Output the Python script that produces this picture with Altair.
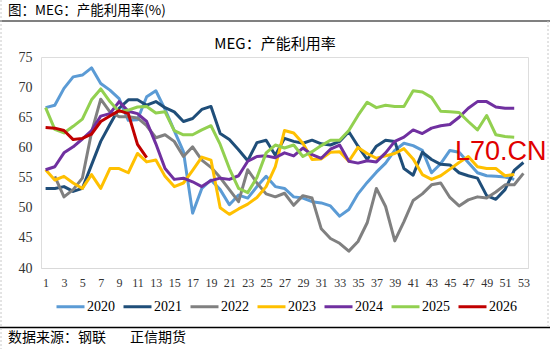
import altair as alt
import pandas as pd

years = ["2020", "2021", "2022", "2023", "2024", "2025", "2026"]
colors = ["#5B9BD5", "#1F4E79", "#808080", "#FFC000", "#7030A0", "#92D050", "#C00000"]

s2020 = [66.6, 67.0, 69.8, 71.7, 72.0, 73.2, 70.6, 69.5, 68.1, 64.5, 64.6, 68.4, 69.4,
         66.3, 62.8, 59.3, 49.1, 53.2, 54.6, 53.0, 50.5, 52.1, 51.6, 53.5, 55.2, 53.5,
         53.2, 51.8, 51.6, 51.0, 50.8, 50.3, 48.6, 49.7, 52.3, 54.2, 55.9, 57.4, 59.5,
         60.7, 60.3, 59.5, 55.8, 57.3, 59.5, 59.2, 57.5, 55.8, 55.3, 55.2, 55.1, 54.7]
s2021 = [53.2, 53.2, 53.5, 52.7, 53.2, 57.1, 61.0, 63.8, 66.5, 67.9, 67.9, 67.0, 67.6,
         66.6, 65.9, 64.3, 64.8, 66.3, 66.8, 62.3, 61.3, 59.6, 57.8, 60.8, 61.2, 58.7,
         61.5, 61.0, 60.7, 61.2, 60.6, 60.4, 61.0, 62.6, 60.2, 58.0, 60.2, 61.2, 61.0,
         56.5, 55.4, 59.2, 58.0, 57.2, 57.1, 55.8, 55.3, 54.9, 52.0, 51.4, 53.0, 56.2, 57.5]
s2022 = [None, 55.2, 51.8, 53.0, 54.9, 62.5, 68.0, 65.9, 65.1, 65.1, 64.9, 63.6, 61.6,
         62.1, 61.0, 58.5, 60.1, 57.9, 56.7, 55.0, 53.0, 51.0, 56.3, 54.1, 52.3, 51.8,
         52.4, 50.4, 52.0, 51.6, 46.5, 44.9, 44.1, 42.8, 44.4, 47.5, 53.2, 50.2, 44.5,
         47.7, 51.2, 52.3, 53.8, 54.1, 51.7, 50.3, 51.3, 51.8, 51.6, 52.6, 53.8, 53.8, 55.7]
s2023 = [56.3, 54.6, 55.2, 54.1, 53.2, 55.5, 53.2, 56.5, 56.5, 55.8, 59.0, 57.6, 57.9,
         55.2, 53.5, 54.1, 56.2, 58.4, 57.9, 50.0, 48.9, 49.8, 50.6, 51.7, 53.5, 56.8,
         62.8, 62.4, 60.7, 58.0, 58.1, 59.2, 59.3, 57.7, 60.0, 59.0, 58.2, 58.6, 59.0,
         59.8, 58.1, 55.5, 54.7, 55.3, 56.4, 57.5, 58.5, 56.8, 56.5, 56.5, 55.3, 55.5]
s2024 = [56.3, 56.8, 59.1, 60.1, 61.4, 62.8, 65.2, 65.6, 67.6, 66.0, 65.6, 64.3, 60.6,
         56.5, 54.7, 54.9, 54.3, 53.5, 54.5, 54.9, 54.7, 55.3, 57.7, 58.5, 58.6, 58.3,
         59.1, 58.6, 59.9, 58.8, 58.2, 59.7, 60.4, 57.7, 57.4, 57.8, 57.6, 59.1, 61.0,
         61.7, 62.9, 62.3, 63.2, 63.6, 63.8, 65.0, 66.5, 67.6, 67.6, 66.7, 66.5, 66.5]
s2025 = [66.6, 63.0, 62.4, 63.5, 64.7, 67.9, 69.7, 67.6, 65.9, 66.2, 66.7, 66.8, 65.7,
         65.9, 62.8, 62.1, 62.1, 62.9, 63.6, 60.5, 56.5, 53.2, 52.5, 55.0, 59.1, 60.4,
         59.9, 60.4, 58.5, 59.3, 60.3, 61.2, 61.2, 62.8, 65.3, 67.5, 66.6, 67.0, 66.8,
         66.8, 69.4, 69.2, 68.3, 66.0, 65.9, 65.8, 64.3, 62.9, 65.3, 62.1, 61.8, 61.7]
s2026 = [63.3, 63.2, 62.8, 61.3, 61.5, 62.2, 64.3, 65.2, 66.1, 65.6, 60.5, 58.3]

x_ticks = list(range(1, 54, 2))
y_ticks = list(range(40, 76, 5))

series = [s2020, s2021, s2022, s2023, s2024, s2025, s2026]
rows = []
for k, (yr, s) in enumerate(zip(years, series)):
    for i, v in enumerate(s):
        if v is not None:
            rows.append({"week": i + 1, "value": v, "year": yr, "k": k})
df = pd.DataFrame(rows)

W, H = 487, 211
PL, PT = 41, 57
NUM_FONT = "Liberation Serif"
CJK_FONT = "Noto Sans CJK SC"

lines = alt.Chart(df).mark_line(strokeWidth=3, strokeJoin="round").encode(
    x=alt.X("week:Q",
            scale=alt.Scale(domain=[0.5, 53.5], nice=False, zero=False),
            axis=alt.Axis(values=x_ticks, title=None, grid=False, ticks=False,
                          domainColor="#D9D9D9", domainWidth=1,
                          labelFont=NUM_FONT, labelFontSize=12, labelColor="#333333",
                          labelPadding=9, labelFlush=False)),
    y=alt.Y("value:Q",
            scale=alt.Scale(domain=[40, 75], nice=False, zero=False),
            axis=alt.Axis(values=y_ticks, title=None, grid=False, ticks=False, domain=False,
                          labelFont=NUM_FONT, labelFontSize=14, labelColor="#333333",
                          labelPadding=9)),
    color=alt.Color("year:N",
                    scale=alt.Scale(domain=years, range=colors),
                    legend=alt.Legend(orient="none", legendX=14, legendY=234,
                                      direction="horizontal", title=None,
                                      symbolType="stroke", symbolSize=784,
                                      symbolStrokeWidth=3, labelFont=NUM_FONT,
                                      labelFontSize=14, labelColor="#000000",
                                      columnPadding=2, labelOffset=1)),
    detail="k:N",
)


def txt(s, x, y, size, font=CJK_FONT, color="#000000", align="left", baseline="middle"):
    return alt.Chart(pd.DataFrame({"t": [s]})).mark_text(
        font=font, fontSize=size, color=color, align=align, baseline=baseline
    ).encode(x=alt.value(x), y=alt.value(y), text="t:N")


def rule(x1, x2, y1, y2, color, width=1, dash=None):
    kw = dict(color=color, strokeWidth=width)
    if dash:
        kw["strokeDash"] = dash
    return alt.Chart(pd.DataFrame({"a": [0]})).mark_rule(**kw).encode(
        x=alt.value(x1), x2=alt.value(x2), y=alt.value(y1), y2=alt.value(y2))


layers = [
    lines,
    txt("图：MEG：产能利用率(%)", 8 - PL, 11 - PT, 13.5),
    rule(0 - PL, 550 - PL, 21 - PT, 21 - PT, "#808080", 2),
    txt("MEG：产能利用率", 275 - PL, 44 - PT, 15, align="center"),
    txt("L70.CN", 455 - PL, 160 - PT, 27, font="Liberation Sans", color="#E00000",
        baseline="alphabetic"),
    rule(0 - PL, 550 - PL, 327.5 - PT, 327.5 - PT, "#000000", 1.5),
    txt("数据来源：钢联", 8 - PL, 338 - PT, 14),
    txt("正信期货", 130 - PL, 338 - PT, 14),
    rule(1 - PL, 1 - PL, 0 - PT, 349 - PT, "#C8C8C8", 1, [2, 2]),
    rule(548 - PL, 548 - PL, 21 - PT, 327 - PT, "#C8C8C8", 1, [2, 2]),
]

chart = alt.layer(*layers).properties(
    width=W, height=H,
    autosize=alt.AutoSizeParams(type="none"),
    padding={"left": PL, "top": PT, "right": 550 - PL - W, "bottom": 349 - PT - H},
).configure_view(stroke=None).configure(background="#FFFFFF")

chart.save("out.html", embed_options={"renderer": "svg", "actions": False})
